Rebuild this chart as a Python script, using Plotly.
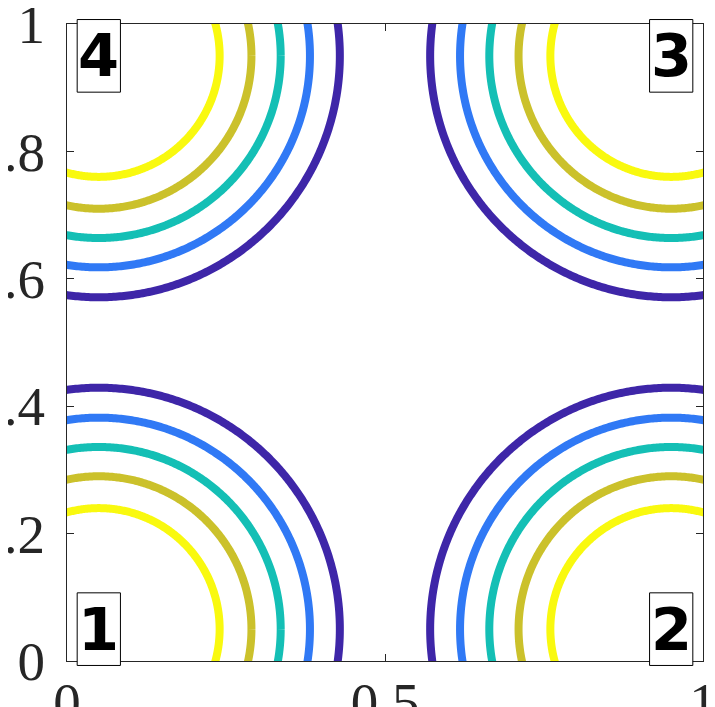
import numpy as np
import plotly.graph_objects as go

# Contour levels drawn as circles (radius in axis units) around each corner centre
radii = [0.379, 0.332, 0.286, 0.240, 0.190]
level_colors = ["#3e26a8", "#3079f5", "#14bfb5", "#cbc12b", "#f9f90f"]
centres_x = [0.05, 0.95, 0.95, 0.05]
centres_y = [0.05, 0.05, 0.95, 0.95]
corner_labels = ["1", "2", "3", "4"]

x_tickvals = [0, 0.5, 1]
x_ticktext = ["0", "0.5", "1"]
y_tickvals = [0, 0.2, 0.4, 0.6, 0.8, 1]
y_ticktext = ["0", ".2", ".4", ".6", ".8", "1"]

theta = np.linspace(0, 2 * np.pi, 721)

fig = go.Figure()
for cx, cy in zip(centres_x, centres_y):
    for r, col in zip(radii, level_colors):
        fig.add_trace(go.Scatter(
            x=cx + r * np.cos(theta), y=cy + r * np.sin(theta),
            mode="lines", line=dict(color=col, width=8, simplify=False),
            hoverinfo="skip", showlegend=False))

# label boxes (axis range is [0, 1], so domain fractions equal data values)
half_w, half_h = 0.034, 0.057
for cx, cy, lab in zip(centres_x, centres_y, corner_labels):
    fig.add_shape(type="rect", xref="x domain", yref="y domain",
                  x0=cx - half_w, x1=cx + half_w,
                  y0=cy - half_h, y1=cy + half_h,
                  line=dict(color="black", width=1), fillcolor="white",
                  layer="above")
    fig.add_annotation(
        x=cx, y=cy, xref="x", yref="y", text=lab, showarrow=False,
        xanchor="center", yanchor="middle",
        font=dict(family="DejaVu Sans", size=59, color="black", weight="bold"),
        borderpad=0)

axis_common = dict(
    showgrid=False, zeroline=False, showline=True, linecolor="#262626",
    linewidth=1.2, mirror="ticks", ticks="inside", ticklen=7,
    tickcolor="#262626", tickwidth=1, automargin=False,
    ticklabeloverflow="allow",
    tickfont=dict(family="Liberation Serif", size=55, color="#262626"),
)

fig.update_xaxes(range=[0, 1], tickvals=x_tickvals, ticktext=x_ticktext,
                 ticklabelstandoff=-7, **axis_common)
fig.update_yaxes(range=[0, 1], tickvals=y_tickvals, ticktext=y_ticktext,
                 ticklabelstandoff=10, **axis_common)

fig.update_layout(
    width=707, height=699,
    margin=dict(l=59, r=12, t=16, b=46),
    paper_bgcolor="white", plot_bgcolor="white",
)

fig.write_html("out.html")
